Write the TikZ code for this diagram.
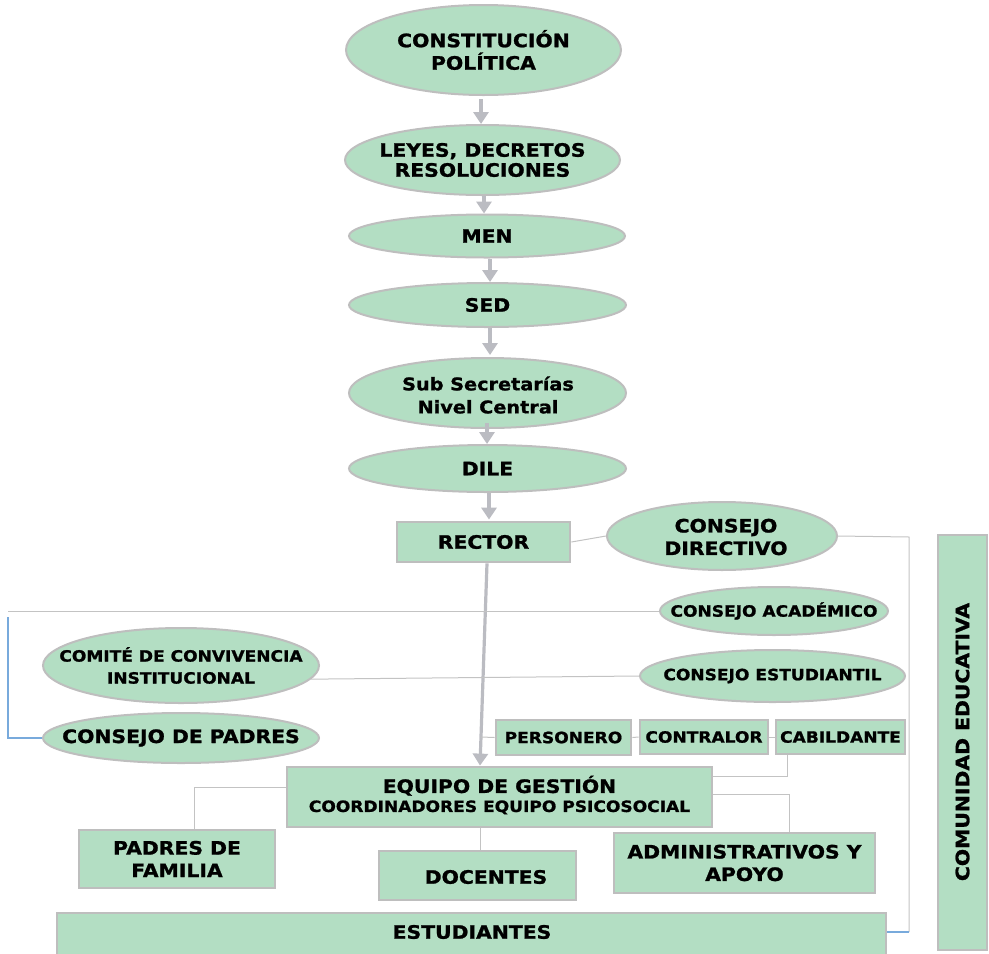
\documentclass[tikz,border=0pt]{standalone}
\usepackage{fontspec}
\setmainfont{DejaVu Sans}
\newfontfamily\wfont{DejaVu Sans}[FakeStretch=1.1, BoldFeatures={FakeBold=1.2}]
\usetikzlibrary{shapes.geometric,arrows.meta}
\definecolor{boxgreen}{RGB}{179,222,195}
\definecolor{bordergray}{RGB}{190,190,190}
\definecolor{arrgray}{RGB}{187,188,194}
\definecolor{linegray}{RGB}{195,195,195}
\definecolor{lineblue}{RGB}{120,170,220}
\newcommand\fbig{\wfont\bfseries\fontsize{18.5}{22.5}\selectfont}
\newcommand\fmid{\wfont\bfseries\fontsize{15.5}{19}\selectfont}
\newcommand\fsub{\wfont\bfseries\fontsize{17.5}{23}\selectfont}
\begin{document}
\begin{tikzpicture}[x=1pt,y=-1pt,
 ell/.style={ellipse, draw=bordergray, line width=2pt, fill=boxgreen, inner sep=0pt},
 box/.style={rectangle, draw=bordergray, line width=2.8pt, fill=boxgreen, inner sep=0pt, align=center},
 lbl/.style={align=center, inner sep=0pt},
 arr/.style={draw=arrgray, line width=3.2pt, -{Triangle[width=15pt,length=12pt]}},
 conn/.style={draw=linegray, line width=1pt},
 bconn/.style={draw=lineblue, line width=1.3pt}]
\useasboundingbox (0,0) rectangle (989,954);

% ---------- top chain of ellipses
\node[ell, minimum width=275pt, minimum height=90pt] (const) at (483.5,50) {};
\node[lbl, font=\fbig] (const-t) at (const) {CONSTITUCIÓN\\POLÍTICA};
\node[ell, minimum width=275pt, minimum height=70pt] (leyes) at (482.5,160) {};
\node[lbl, font=\fbig\fontsize{18.5}{20}\selectfont] (leyes-t) at (leyes) {LEYES, DECRETOS\\RESOLUCIONES};
\node[ell, minimum width=276pt, minimum height=43pt] (men) at (487,236) {};
\node[lbl, font=\fbig] (men-t) at (men) {MEN};
\node[ell, minimum width=277pt, minimum height=44pt] (sed) at (487.5,305) {};
\node[lbl, font=\fbig] (sed-t) at (sed) {SED};
\node[ell, minimum width=277pt, minimum height=70pt] (sub) at (487.5,393) {};
\node[lbl, font=\fsub] (sub-t) at (488,395) {Sub Secretarías\\Nivel Central};
\node[ell, minimum width=277pt, minimum height=47pt] (dile) at (487.5,468.5) {};
\node[lbl, font=\fbig] (dile-t) at (dile) {DILE};

% ---------- rector and councils
\node[box, minimum width=173pt, minimum height=40pt, font=\fbig] (rector) at (483.5,542) {RECTOR};
\node[ell, minimum width=230pt, minimum height=68pt] (cdir) at (722,536) {};
\node[lbl, font=\fbig] (cdir-t) at (726,537) {CONSEJO\\DIRECTIVO};
\node[ell, minimum width=228pt, minimum height=48pt] (cacad) at (774,611) {};
\node[lbl, font=\fmid] (cacad-t) at (cacad) {CONSEJO ACADÉMICO};
\node[ell, minimum width=276pt, minimum height=75pt] (comite) at (181,665.5) {};
\node[lbl, font=\fmid\fontsize{15.5}{22}\selectfont] (comite-t) at (comite) {COMITÉ DE CONVIVENCIA\\INSTITUCIONAL};
\node[ell, minimum width=265pt, minimum height=52pt] (cest) at (772.5,676) {};
\node[lbl, font=\fmid] (cest-t) at (cest) {CONSEJO ESTUDIANTIL};
\node[ell, minimum width=276pt, minimum height=50pt] (cpad) at (181,738) {};
\node[lbl, font=\fbig] (cpad-t) at (cpad) {CONSEJO DE PADRES};

% ---------- student government
\node[box, minimum width=135pt, minimum height=35pt, font=\fmid] (pers) at (563.5,737.5) {PERSONERO};
\node[box, minimum width=128pt, minimum height=34pt, font=\fmid] (contr) at (704,737) {CONTRALOR};
\node[box, minimum width=129pt, minimum height=34pt, font=\fmid] (cabil) at (840.5,737) {CABILDANTE};

% ---------- management team and community
\node[box, minimum width=425pt, minimum height=60pt] (equipo) at (499.5,797) {};
\node[lbl, font=\fmid\fontsize{15.5}{19}\selectfont] (equipo-t) at (499.5,795) {{\fbig EQUIPO DE GESTIÓN}\\{\fmid COORDINADORES EQUIPO PSICOSOCIAL}};
\node[box, minimum width=196pt, minimum height=58pt, font=\fbig] (padres) at (177,859) {PADRES DE\\FAMILIA};
\node[box, minimum width=197pt, minimum height=49pt] (doc) at (477.5,875.5) {};
\node[lbl, font=\fbig] (doc-t) at (486,877) {DOCENTES};
\node[box, minimum width=261pt, minimum height=60pt, font=\fbig] (admin) at (744.5,863) {ADMINISTRATIVOS Y\\APOYO};
\node[box, minimum width=829pt, minimum height=44pt] (estud) at (471.5,935) {};
\node[lbl, font=\fbig] (estud-t) at (472,932) {ESTUDIANTES};
\node[box, minimum width=49pt, minimum height=415pt] (comun) at (962.5,742.5) {};
\node[lbl, font=\fbig, rotate=90] (comun-t) at (962.5,742) {COMUNIDAD EDUCATIVA};

% ---------- helper coordinates
\coordinate (x481) at (481,0);
\coordinate (x484) at (484,0);
\coordinate (x490) at (490,0);
\coordinate (x487) at (487,0);
\coordinate (x489) at (489,0);
\coordinate (x480) at (480,0);
\coordinate (xcab) at (787,0);
\coordinate (ycab) at (0,776);
\coordinate (xpad) at (194,0);
\coordinate (ypad) at (0,787);
\coordinate (xadm) at (789,0);
\coordinate (yadm) at (0,794);
\coordinate (cdr) at (909,537);
\coordinate (cdb) at (909,932);
\coordinate (cal) at (8,611);
\coordinate (cbl) at (8,617);
\coordinate (pj) at (481,737);

% ---------- arrows
\draw[arr, shorten <=3pt] (const.south -| x481) -- (leyes.north -| x481);
\draw[arr] (leyes.south -| x484) -- (men.north -| x484);
\draw[arr] (men.south -| x490) -- (sed.north -| x490);
\draw[arr, shorten >=2pt] (sed.south -| x490) -- (sub.north -| x490);
\draw[arr, shorten <=-6pt] (sub.south -| x487) -- (dile.north -| x487);
\draw[arr, shorten >=1pt] (dile.south -| x489) -- (rector.north -| x489);
\draw[arr] (rector.south -| x487) -- (equipo.north -| x480);

% ---------- connectors
\draw[conn] (rector.east) -- (cdir.west);
\draw[conn] (cdir.east) -- (cdr) -- (cdb);
\draw[bconn] (cdb) -- (estud.east |- cdb);
\draw[conn] (cacad.west) -- (cal);
\draw[bconn] (cbl) |- (cpad.west);
\draw[conn] (comite.-6.5) -- (cest.west);
\draw[conn] (pers.west) -- (pj);
\draw[conn] (pers.east) -- (contr.west);
\draw[conn] (contr.east) -- (cabil.west);
\draw[conn] (cabil.south -| xcab) |- (equipo.east |- ycab);
\draw[conn] (equipo.west |- ypad) -| (padres.north -| xpad);
\draw[conn] (equipo.east |- yadm) -| (admin.north -| xadm);
\draw[conn] (equipo.south -| x480) -- (doc.north -| x480);
\end{tikzpicture}
\end{document}
